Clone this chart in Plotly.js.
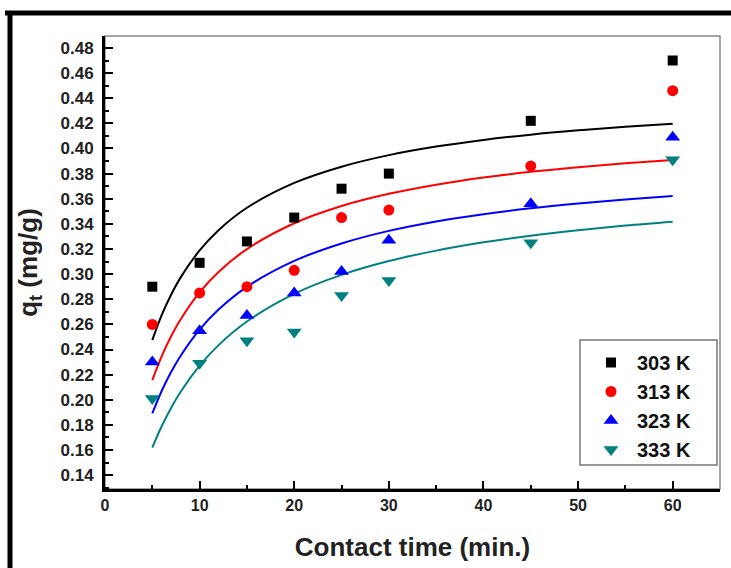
<!DOCTYPE html>
<html>
<head>
<meta charset="utf-8">
<script src="https://cdn.plot.ly/plotly-3.0.1.min.js"></script>
<style>
html,body{margin:0;padding:0;background:#fff;}
#chart{width:731px;height:568px;}
</style>
</head>
<body>
<div id="chart"></div>
<script>
// measured points
const timeExp = [5, 10, 15, 20, 25, 30, 45, 60];
const q303 = [0.290, 0.309, 0.326, 0.345, 0.368, 0.380, 0.422, 0.470];
const q313 = [0.260, 0.285, 0.290, 0.303, 0.345, 0.351, 0.386, 0.446];
const q323 = [0.230, 0.255, 0.267, 0.285, 0.302, 0.327, 0.356, 0.409];
const q333 = [0.201, 0.229, 0.247, 0.254, 0.283, 0.295, 0.325, 0.391];

// fitted curves
const timeFit = [5, 6, 7, 8, 10, 12, 15, 20, 25, 30, 35, 40, 45, 50, 55, 60];
const fit303 = [0.2475, 0.2675, 0.2838, 0.2974, 0.3189, 0.3350, 0.3528, 0.3726, 0.3855, 0.3947, 0.4015, 0.4068, 0.4110, 0.4144, 0.4173, 0.4197];
const fit313 = [0.2157, 0.2348, 0.2507, 0.2641, 0.2855, 0.3017, 0.3199, 0.3405, 0.3542, 0.3639, 0.3712, 0.3769, 0.3814, 0.3851, 0.3882, 0.3908];
const fit323 = [0.1892, 0.2072, 0.2223, 0.2351, 0.2558, 0.2718, 0.2899, 0.3105, 0.3244, 0.3344, 0.3419, 0.3477, 0.3524, 0.3562, 0.3594, 0.3622];
const fit333 = [0.1620, 0.1791, 0.1937, 0.2064, 0.2271, 0.2435, 0.2623, 0.2843, 0.2994, 0.3104, 0.3187, 0.3253, 0.3306, 0.3349, 0.3386, 0.3417];

const seriesNames = ['303 K', '313 K', '323 K', '333 K'];
const colors = ['#000000', '#ff0000', '#0000ff', '#008080'];
const symbols = ['square', 'circle', 'triangle-up', 'triangle-down'];
const sizes = [10, 11, 13, 13];
const expData = [q303, q313, q323, q333];
const fitData = [fit303, fit313, fit323, fit333];

const traces = [];
for (let i = 0; i < 4; i++) {
  traces.push({
    x: timeFit, y: fitData[i], mode: 'lines', type: 'scatter',
    line: {color: colors[i], width: 2, shape: 'spline'},
    showlegend: false, hoverinfo: 'skip'
  });
}
for (let i = 0; i < 4; i++) {
  traces.push({
    x: timeExp, y: expData[i], mode: 'markers', type: 'scatter',
    name: seriesNames[i],
    marker: {color: colors[i], symbol: symbols[i], size: sizes[i]}
  });
}

const FONT = 'Arial, "Liberation Sans", sans-serif';
const W = 615, H = 453;
function px(x){ return (x - 105) / W; }
function py(y){ return (489 - y) / H; }

const layout = {
  width: 731, height: 568,
  margin: {l: 105, r: 11, t: 36, b: 79},
  paper_bgcolor: '#fff', plot_bgcolor: '#fff',
  font: {family: FONT, color: '#222'},
  xaxis: {
    range: [0, 65], dtick: 10, tick0: 0,
    ticks: 'inside', ticklen: 8, tickwidth: 2, tickcolor: '#000',
    minor: {dtick: 5, ticks: 'inside', ticklen: 4, tickwidth: 2, tickcolor: '#000'},
    showline: true, linewidth: 3, linecolor: '#000',
    showgrid: false, zeroline: false,
    tickfont: {family: FONT, size: 16, color: '#222', weight: 'bold'},
    title: {text: '<b>Contact time (min.)</b>', font: {family: FONT, size: 26, color: '#222'}, standoff: 25}
  },
  yaxis: {
    range: [0.129, 0.4895], dtick: 0.02, tick0: 0,
    tickformat: '.2f',
    ticks: 'inside', ticklen: 8, tickwidth: 2, tickcolor: '#000',
    minor: {dtick: 0.01, ticks: 'inside', ticklen: 4, tickwidth: 2, tickcolor: '#000'},
    showline: true, linewidth: 3, linecolor: '#000',
    showgrid: false, zeroline: false,
    ticklabelstandoff: 5,
    tickfont: {family: FONT, size: 17, color: '#222', weight: 'bold'},
    title: {text: '<b>q<sub>t</sub> (mg/g)</b>', font: {family: FONT, size: 26, color: '#222'}, standoff: 16}
  },
  legend: {
    x: px(585), y: py(343), xanchor: 'left', yanchor: 'top',
    bgcolor: 'rgba(0,0,0,0)', borderwidth: 0,
    font: {family: FONT, size: 20, color: '#111', weight: 'bold'},
    tracegroupgap: 0, itemwidth: 42
  },
  shapes: [
    {type: 'rect', xref: 'paper', yref: 'paper', x0: 0, x1: 1, y0: 0, y1: 1,
     line: {color: '#888', width: 1.5}, layer: 'below'},
    {type: 'rect', xref: 'paper', yref: 'paper', x0: px(580), x1: px(717), y0: py(340), y1: py(465),
     line: {color: '#777', width: 1.5}, fillcolor: '#fff', layer: 'below'},
    {type: 'line', xref: 'paper', yref: 'paper', x0: px(5), x1: px(731), y0: py(13), y1: py(13),
     line: {color: '#000', width: 5}},
    {type: 'line', xref: 'paper', yref: 'paper', x0: px(10), x1: px(10), y0: py(11), y1: py(570),
     line: {color: '#000', width: 5}}
  ],
  showlegend: true
};

Plotly.newPlot('chart', traces, layout, {displayModeBar: false, staticPlot: true});
</script>
</body>
</html>
